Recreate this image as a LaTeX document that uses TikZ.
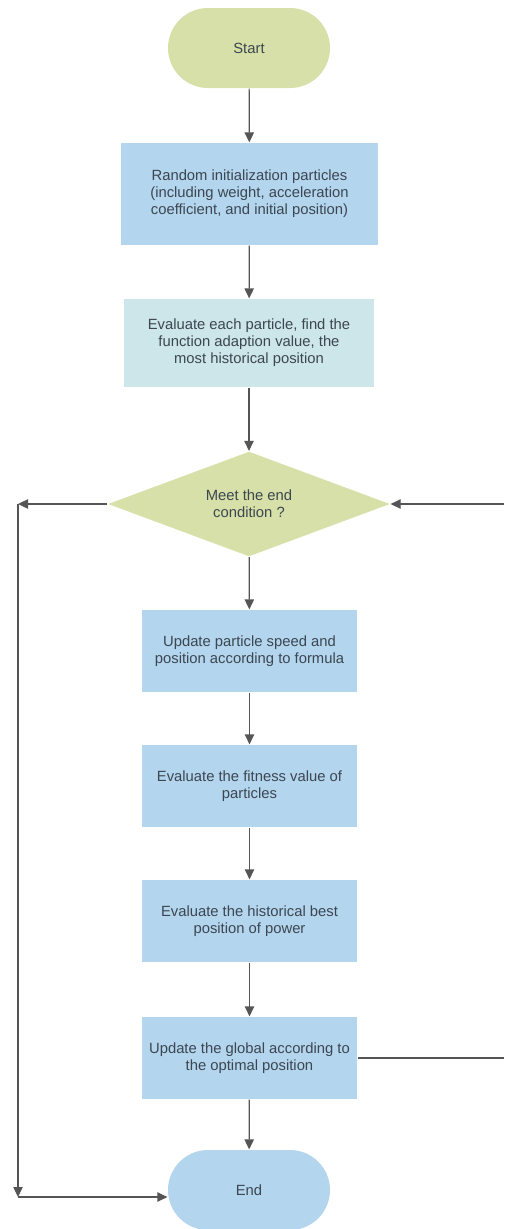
\documentclass[tikz,border=0pt]{standalone}
\usepackage{fontspec}
\setmainfont{Liberation Sans}
\usetikzlibrary{%
  arrows.meta,%
  shapes.geometric,% wg. diamond
  shapes.misc,% wg. rounded rectangle
  positioning,%
  calc%
}
\definecolor{termgreen}{HTML}{D6E0A8}
\definecolor{stepblue}{HTML}{B3D5EE}
\definecolor{steplight}{HTML}{CDE6EA}
\definecolor{txtgrey}{HTML}{3C4650}
\definecolor{linegrey}{HTML}{555555}

\begin{document}
\begin{tikzpicture}
  [
  x=0.75pt, y=-0.75pt,
  font=\fontsize{11.1pt}{12.75pt}\selectfont, line width=0.9pt, draw=linegrey,
  >={Triangle[length=7.5pt,width=7pt]},
  flow/.style={->, draw=linegrey},
  termnode/.style={rounded rectangle, inner sep=0pt, minimum width=121.5pt, minimum height=60pt, text=txtgrey},
  stepnode/.style={rectangle, inner sep=0pt, fill=stepblue, text=txtgrey, align=center},
  decnode/.style={diamond, inner sep=0pt, aspect=2.69, minimum width=211.5pt, minimum height=78.75pt, fill=termgreen, text=txtgrey, align=center},
  ]

  \useasboundingbox (0,0) rectangle (504,1229);

  \node[termnode, fill=termgreen] (start) at (249,48) {Start};
  \node[stepnode, minimum width=192.75pt, minimum height=76.5pt] (init) at (249.5,194)
    {Random initialization particles\\(including weight, acceleration\\coefficient, and initial position)};
  \node[stepnode, fill=steplight, minimum width=187.5pt, minimum height=66pt] (eval) at (249,343)
    {Evaluate each particle, find the\\function adaption value, the\\most historical position};
  \node[decnode] (cond) at (249,504) {Meet the end\\condition ?};
  \node[stepnode, minimum width=161.25pt, minimum height=61.5pt] (speed) at (249.5,651)
    {Update particle speed and\\position according to formula};
  \node[stepnode, minimum width=161.25pt, minimum height=61.5pt] (fit) at (249.5,786)
    {Evaluate the fitness value of\\particles};
  \node[stepnode, minimum width=161.25pt, minimum height=61.5pt] (best) at (249.5,921)
    {Evaluate the historical best\\position of power};
  \node[stepnode, minimum width=161.25pt, minimum height=61.5pt] (glob) at (249.5,1058)
    {Update the global according to\\the optimal position};
  \node[termnode, fill=stepblue] (end) at (249,1190) {End};

  \coordinate (tl) at (18,504);
  \coordinate (bl) at (18,1197);
  \coordinate (rt) at (504,504);

  \draw[flow] (start) -- (init);
  \draw[flow] (init) -- (eval);
  \draw[flow] (eval) -- (cond);
  \draw[flow] (cond) -- (speed);
  \draw[flow] (speed) -- (fit);
  \draw[flow] (fit) -- (best);
  \draw[flow] (best) -- (glob);
  \draw[flow] (glob) -- (end);

  % loop back on the right
  \draw (glob.east) -- (glob.east -| rt);
  \draw[flow] (rt) -- (cond.east);

  % way out on the left
  \draw[flow] (cond.west) -- (tl);
  \draw[flow] (tl) -- (bl);
  \draw[flow] (bl) -- (bl -| end.west);

\end{tikzpicture}
\end{document}
